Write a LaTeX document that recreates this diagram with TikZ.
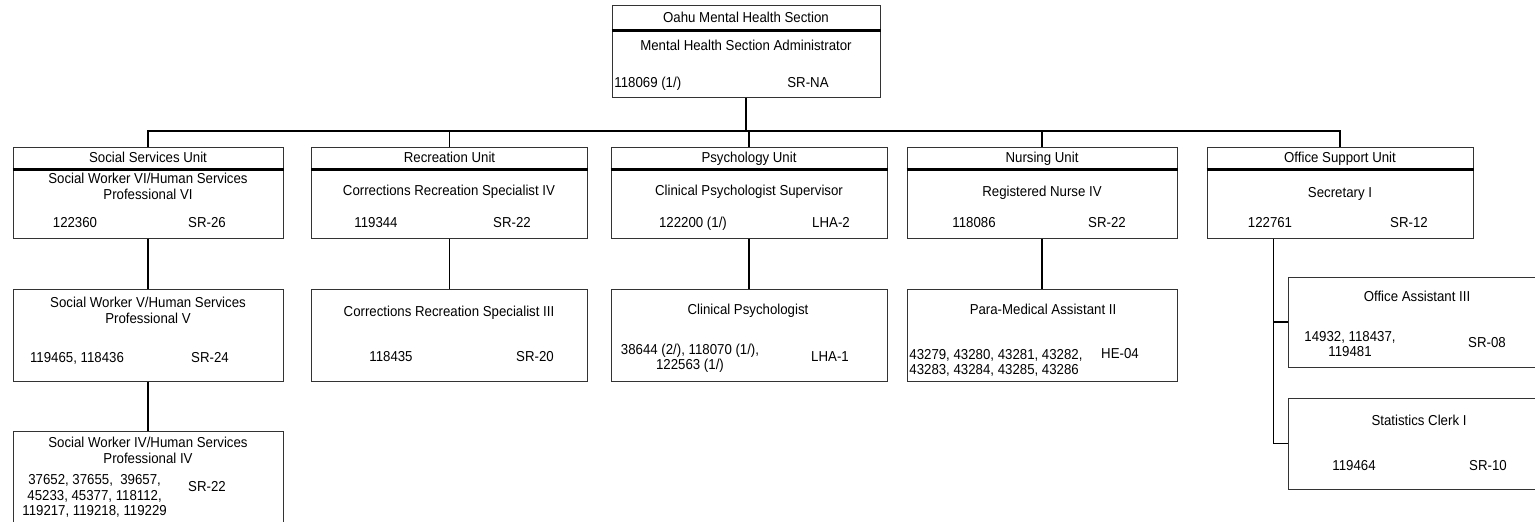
\documentclass[tikz,border=0pt]{standalone}
\usepackage{fontspec}
\setmainfont{Liberation Sans}[FakeStretch=0.92]
\usepackage{tikz}
\usetikzlibrary{positioning, calc}

\begin{document}
\begin{tikzpicture}[
    x=0.5pt, y=-0.5pt,
    every node/.style={font=\fontsize{7.2}{7.7}\selectfont, align=center, inner sep=0pt},
    posbox/.style={draw=black!80, line width=0.5pt, minimum width=#1, minimum height=46pt},
    posbox/.default=135pt,
    headbox/.style={draw=black!80, line width=0.5pt, minimum width=#1, minimum height=11pt, text height=5.8pt, text depth=1pt, anchor=north},
    headbox/.default=135pt,
    oneline/.style={text height=5.3pt, text depth=1.5pt},
    headline/.style={line width=1.1pt},
    link/.style={line width=0.7pt}
]
\useasboundingbox (0,0) rectangle (1535,521);

% Section head
\node[posbox=134pt] (admin) at (746,51) {};
\node[headbox=134pt, minimum height=12.5pt] (adminhd) at (admin.north) {Oahu Mental Health Section};
\node[oneline] (admint) at (746,47) {Mental Health Section Administrator};
\node[oneline, anchor=west] (adminn) at (614,84) {118069 (1/)};
\node[oneline] (adming) at (808,84) {SR-NA};

% Row 1: Units
\node[posbox, minimum height=45.5pt] (social) at (148,192.5) {};
\node[posbox=138pt, minimum height=45.5pt] (recre) at (449.5,192.5) {};
\node[posbox=138pt, minimum height=45.5pt] (psych) at (749,192.5) {};
\node[posbox, minimum height=45.5pt] (nurse) at (1042,192.5) {};
\node[posbox=133pt, minimum height=45.5pt] (office) at (1340,192.5) {};

\node[headbox] (socialhd) at (social.north) {Social Services Unit};
\node[headbox=138pt] (recrehd) at (recre.north) {Recreation Unit};
\node[headbox=138pt] (psychhd) at (psych.north) {Psychology Unit};
\node[headbox] (nursehd) at (nurse.north) {Nursing Unit};
\node[headbox=133pt] (officehd) at (office.north) {Office Support Unit};

\node (socialt) at (148,186.5) {Social Worker VI/Human Services\\Professional VI};
\node[oneline] (socialn) at (75,224) {122360};
\node[oneline] (socialg) at (207,224) {SR-26};
\node[oneline] (recret) at (449,192) {Corrections Recreation Specialist IV};
\node[oneline] (recren) at (376,224) {119344};
\node[oneline] (recreg) at (512,224) {SR-22};
\node[oneline] (psycht) at (749,192) {Clinical Psychologist Supervisor};
\node[oneline] (psychn) at (693,224) {122200 (1/)};
\node[oneline] (psychg) at (831,224) {LHA-2};
\node[oneline] (nurset) at (1042,193) {Registered Nurse IV};
\node[oneline] (nursen) at (974,224) {118086};
\node[oneline] (nurseg) at (1107,224) {SR-22};
\node[oneline] (officet) at (1340,194) {Secretary I};
\node[oneline] (officen) at (1270,224) {122761};
\node[oneline] (officeg) at (1409,224) {SR-12};

% Row 2: Positions under the units
\node[posbox] (sw5) at (148,335) {};
\node[posbox=138pt] (corr3) at (449.5,335) {};
\node[posbox=138pt] (clin) at (749,335) {};
\node[posbox] (para) at (1042,335) {};
\node[posbox=130pt, minimum height=45pt] (oa) at (1418,322) {};
\node[posbox=130pt, minimum height=45.5pt] (sc) at (1418,443.5) {};

\node (sw5t) at (148,310.5) {Social Worker V/Human Services\\Professional V};
\node[oneline] (sw5n) at (77,359) {119465, 118436};
\node[oneline] (sw5g) at (210,359) {SR-24};
\node[oneline] (corr3t) at (449,313) {Corrections Recreation Specialist III};
\node[oneline] (corr3n) at (391,358) {118435};
\node[oneline] (corr3g) at (535,358) {SR-20};
\node[oneline] (clint) at (748,311) {Clinical Psychologist};
\node (clinn) at (690,358) {38644 (2/), 118070 (1/),\\122563 (1/)};
\node[oneline] (cling) at (830,358) {LHA-1};
\node[oneline] (parat) at (1043,311) {Para-Medical Assistant II};
\node[anchor=west, align=left] (paran) at (909,363) {43279, 43280, 43281, 43282,\\43283, 43284, 43285, 43286};
\node[oneline] (parag) at (1120,355) {HE-04};
\node[oneline] (oat) at (1417,298) {Office Assistant III};
\node (oan) at (1350,344) {14932, 118437,\\119481};
\node[oneline] (oag) at (1487,344) {SR-08};
\node[oneline] (sct) at (1419,422) {Statistics Clerk I};
\node[oneline] (scn) at (1354,467) {119464};
\node[oneline] (scg) at (1488,467) {SR-10};

% Row 3
\node[posbox] (sw4) at (148,477) {};
\node (sw4t) at (148,450.5) {Social Worker IV/Human Services\\Professional IV};
\node[anchor=west] (sw4n) at (22,496) {37652, 37655,\ \ 39657,\\45233, 45377, 118112,\\119217, 119218, 119229};
\node[oneline] (sw4g) at (207,488) {SR-22};

% Header rules
\foreach \hd in {adminhd, socialhd, recrehd, psychhd, nursehd, officehd}
    \draw[headline] (\hd.south west) -- (\hd.south east);

% Connections
\coordinate (bus) at (746,131);
\draw[link] (admin.south) -- (bus);
\foreach \u in {social, recre, psych, nurse, office}
    \draw[link] (bus) -| (\u.north);

\draw[link] (social) -- (sw5);
\draw[link] (sw5) -- (sw4);
\draw[link] (recre) -- (corr3);
\draw[link] (psych) -- (clin);
\draw[link] (nurse) -- (para);

\coordinate (offtrunk) at ($(office.south west)+(67,0)$);
\draw[link] (offtrunk) |- (oa.west);
\draw[link] (offtrunk) |- (sc.west);

\end{tikzpicture}
\end{document}
